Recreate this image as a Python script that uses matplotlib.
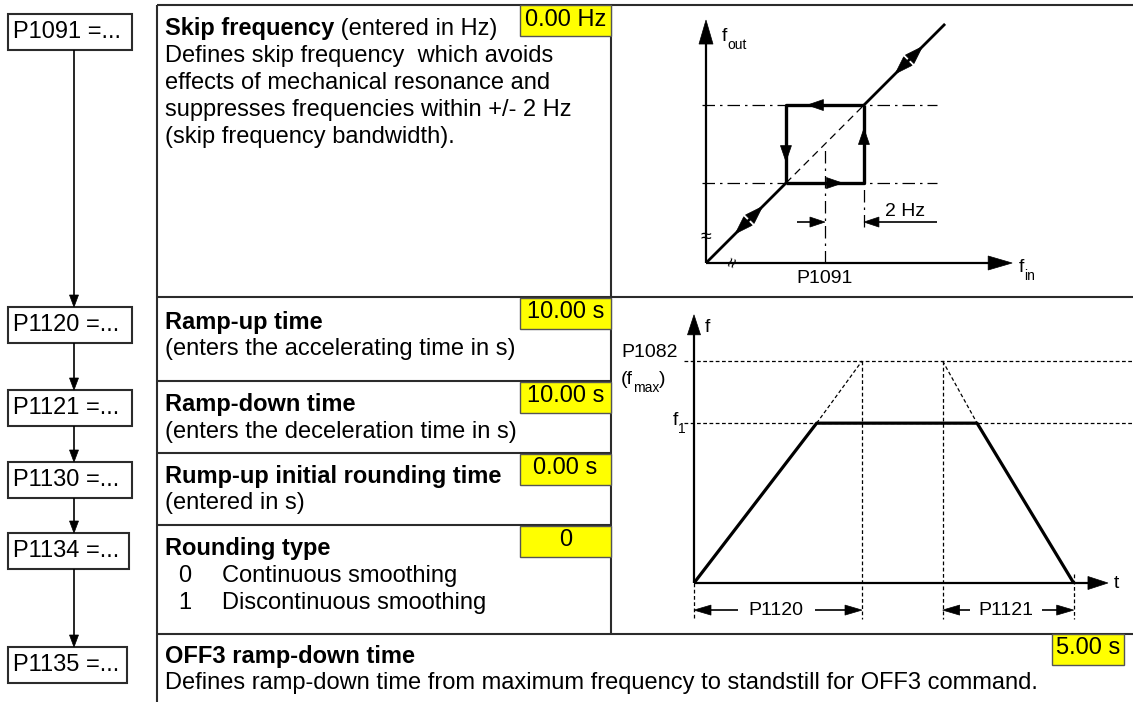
import numpy as np
import matplotlib
matplotlib.use('Agg')
import matplotlib.pyplot as plt
from matplotlib.patches import Rectangle, Polygon
from matplotlib.transforms import IdentityTransform

plt.rcParams['font.family'] = ['Liberation Sans', 'DejaVu Sans']

# ---------------- data ----------------
param_ids = ['P1091', 'P1120', 'P1121', 'P1130', 'P1134', 'P1135']
param_defaults = ['0.00 Hz', '10.00 s', '10.00 s', '0.00 s', '0', '5.00 s']
param_titles = ['Skip frequency', 'Ramp-up time', 'Ramp-down time',
                'Rump-up initial rounding time', 'Rounding type', 'OFF3 ramp-down time']
title_suffix = [' (entered in Hz)', '', '', '', '', '']
param_desc = [
    ['Defines skip frequency  which avoids', 'effects of mechanical resonance and',
     'suppresses frequencies within +/- 2 Hz', '(skip frequency bandwidth).'],
    ['(enters the accelerating time in s)'],
    ['(enters the deceleration time in s)'],
    ['(entered in s)'],
    [],
    ['Defines ramp-down time from maximum frequency to standstill for OFF3 command.'],
]
rounding_codes = ['0', '1']
rounding_names = ['Continuous smoothing', 'Discontinuous smoothing']

# skip-frequency diagram (Hz)
skip_freq = 6.1
skip_band = 2.0
skip_diag_end = 12.26
skip_axis_x_end = 15.7
skip_axis_y_end = 12.46

# ramp diagram (t in s, f in Hz)
ramp_t = [0.0, 7.3, 16.85, 22.6]
ramp_f = [0.0, 36.0, 36.0, 0.0]
f_max = 50.0
t_up_end = 10.0
t_down_start = 14.8
ramp_t_axis_end = 24.64
ramp_f_axis_end = 60.4

# ---------------- figure ----------------
W, H = 1133, 702
fig = plt.figure(figsize=(W / 100, H / 100), dpi=100)
ax = fig.add_axes([0, 0, 1, 1])
ax.set_xlim(0, W)
ax.set_ylim(H, 0)
ax.axis('off')

MAIN_FS = 17
DIAG_FS = 14
SUB_FS = 10
GRID = '#2b2b2b'


def px_axes(x0, y0, x1, y1):
    a = fig.add_axes([x0 / W, 1 - y1 / H, (x1 - x0) / W, (y1 - y0) / H])
    a.axis('off')
    return a


def head(a, tip, frm, length, width):
    T = a.transData
    p = np.array(T.transform(tip), float)
    q = np.array(T.transform(frm), float)
    d = p - q
    d /= np.hypot(*d)
    n = np.array([-d[1], d[0]])
    base = p - d * length
    pts = [p, base + n * width / 2, base - n * width / 2]
    a.add_patch(Polygon(pts, closed=True, transform=IdentityTransform(),
                        facecolor='k', edgecolor='k', lw=0.5, clip_on=False, zorder=5))


def line(a, xs, ys, lw=1.0, ls='-', color='k', z=3):
    a.plot(xs, ys, color=color, lw=lw, ls=ls, solid_capstyle='butt', clip_on=False, zorder=z)


def sub_label(a, x, y, main, sub, close=None, ha='left'):
    t = a.text(x, y, main, fontsize=DIAG_FS, ha=ha, va='baseline')
    s = a.annotate(sub, xy=(1, 0), xycoords=t, fontsize=SUB_FS, ha='left', va='center')
    if close:
        a.annotate(close, xy=(1, 0), xycoords=(s, t), fontsize=DIAG_FS, ha='left', va='bottom')
    return t


# ---------------- frame lines ----------------
line(ax, [157, 1133], [5, 5], lw=1.5, color=GRID)
line(ax, [157, 1133], [297, 297], lw=1.5, color=GRID)
line(ax, [157, 1133], [634, 634], lw=1.5, color=GRID)
for yy in [381, 453, 525]:
    line(ax, [157, 611], [yy, yy], lw=1.5, color=GRID)
line(ax, [157, 157], [5, 702], lw=1.5, color=GRID)
line(ax, [611, 611], [5, 634], lw=1.5, color=GRID)

# ---------------- parameter boxes on the left ----------------
box_y = [(14, 50), (307, 343), (390, 426), (462, 498), (533, 569), (647, 683)]
box_x1 = [132, 132, 132, 132, 129, 127]
for i, pid in enumerate(param_ids):
    y0, y1 = box_y[i]
    ax.add_patch(Rectangle((8, y0), box_x1[i] - 8, y1 - y0, fill=False, lw=1.5,
                           edgecolor=GRID, zorder=3))
    ax.text(13, (y0 + y1) / 2, pid + ' =...', fontsize=MAIN_FS, ha='left', va='center')
    if i + 1 < len(param_ids):
        ny0 = box_y[i + 1][0]
        line(ax, [74, 74], [y1, ny0 - 9], lw=1.2)
        head(ax, (74, ny0), (74, y1), 12, 9)

# ---------------- descriptions ----------------
title_y = [29, 322, 405, 476, 549, 656]
LINE_H = 27
TX = 165
for i, title in enumerate(param_titles):
    t = ax.text(TX, title_y[i], title, fontsize=MAIN_FS, fontweight='bold',
                ha='left', va='center')
    if title_suffix[i]:
        ax.annotate(title_suffix[i], xy=(1, 0), xycoords=t, fontsize=MAIN_FS,
                    ha='left', va='bottom')
    for k, d in enumerate(param_desc[i]):
        ax.text(TX, title_y[i] + LINE_H * (k + 1), d, fontsize=MAIN_FS,
                ha='left', va='center')
    if i == 4:
        for k, (c, nm) in enumerate(zip(rounding_codes, rounding_names)):
            yy = title_y[i] + LINE_H * (k + 1)
            ax.text(178, yy, c, fontsize=MAIN_FS, ha='left', va='center')
            ax.text(222, yy, nm, fontsize=MAIN_FS, ha='left', va='center')

# yellow default-value boxes
ybox = [(520, 5, 91, 31), (520, 298, 91, 31), (520, 382, 91, 31), (520, 454, 91, 31),
        (520, 526, 91, 31), (1052, 634, 72, 31)]
for i, val in enumerate(param_defaults):
    x, y, w, h = ybox[i]
    ax.add_patch(Rectangle((x, y), w, h, facecolor='#ffff00', edgecolor='#555555', lw=1.0,
                           zorder=4))
    ax.text(x + w / 2, y + h / 2 - 1, val, fontsize=MAIN_FS, ha='center', va='center', zorder=5)

# ---------------- skip-frequency diagram ----------------
sx0, sy0, ss = 706, 263, 19.5
sk = px_axes(611, 5, 1133, 297)
sk.set_xlim((611 - sx0) / ss, (1133 - sx0) / ss)
sk.set_ylim((sy0 - 297) / ss, (sy0 - 5) / ss)

lo = skip_freq - skip_band
hi = skip_freq + skip_band
# axes
line(sk, [0, 0], [0, skip_axis_y_end - 0.9], lw=1.6)
head(sk, (0, skip_axis_y_end), (0, 0), 24, 14)
line(sk, [0, skip_axis_x_end - 0.9], [0, 0], lw=1.6)
head(sk, (skip_axis_x_end, 0), (0, 0), 24, 14)
sub_label(sk, 0.8, skip_axis_y_end - 1.05, 'f', 'out')
sub_label(sk, skip_axis_x_end + 0.35, -0.45, 'f', 'in')
# dash-dot guide lines
dd = (0, (10, 4, 2, 4))
for fy in [lo, hi]:
    line(sk, [-0.2, 11.85], [fy, fy], lw=0.9, ls=dd)
line(sk, [skip_freq, skip_freq], [0, skip_freq - 0.15], lw=0.9, ls=dd)
line(sk, [hi, hi], [1.85, lo], lw=0.9, ls=dd)
# diagonal
line(sk, [0, lo], [0, lo], lw=2.0)
line(sk, [lo, hi], [lo, hi], lw=0.9, ls=(0, (6, 4)))
line(sk, [hi, skip_diag_end], [hi, skip_diag_end], lw=2.0)
# hysteresis square
line(sk, [lo, hi, hi], [lo, lo, hi], lw=2.4)
line(sk, [hi, lo, lo], [hi, hi, lo], lw=2.4)
head(sk, (lo + 1.1, hi), (hi, hi), 16, 11)
head(sk, (hi - 1.1, lo), (lo, lo), 16, 11)
head(sk, (lo, lo + 1.1), (lo, hi), 16, 11)
head(sk, (hi, hi - 1.2), (hi, lo), 16, 11)
# arrows on diagonal
for tip, frm in [((11.1, 11.1), (0, 0)), ((9.7, 9.7), (12, 12)),
                 ((2.9, 2.9), (0, 0)), ((1.5, 1.5), (4, 4))]:
    head(sk, tip, frm, 18, 12)
# 2 Hz dimension
line(sk, [11.85, hi + 0.5], [2.1, 2.1], lw=1.2)
head(sk, (hi, 2.1), (11.85, 2.1), 15, 10)
line(sk, [4.67, skip_freq - 0.5], [2.1, 2.1], lw=1.2)
head(sk, (skip_freq, 2.1), (4.67, 2.1), 15, 10)
sk.text(10.2, 2.65, '2 Hz', fontsize=DIAG_FS, ha='center', va='center')
sk.text(skip_freq, -0.78, 'P1091', fontsize=DIAG_FS, ha='center', va='center')
# axis break marks
sk.text(0, 1.3, '\u2248', fontsize=14, ha='center', va='center')
sk.text(1.4, 0, '\u2248', fontsize=13, ha='center', va='center', rotation=70)

# ---------------- ramp diagram ----------------
rx0, ry0, rsx, rsy = 694, 583, 16.8, 4.44
rp = px_axes(611, 297, 1133, 634)
rp.set_xlim((611 - rx0) / rsx, (1133 - rx0) / rsx)
rp.set_ylim((ry0 - 634) / rsy, (ry0 - 297) / rsy)

line(rp, [0, 0], [0, ramp_f_axis_end - 4], lw=1.6)
head(rp, (0, ramp_f_axis_end), (0, 0), 20, 13)
line(rp, [0, ramp_t_axis_end - 1], [0, 0], lw=1.6)
head(rp, (ramp_t_axis_end, 0), (0, 0), 20, 13)
rp.text(0.65, ramp_f_axis_end - 2.8, 'f', fontsize=DIAG_FS, ha='left', va='center')
rp.text(ramp_t_axis_end + 0.35, 0, 't', fontsize=DIAG_FS, ha='left', va='center')

dsh = (0, (3, 2))
t_hi = (1133 - rx0) / rsx
line(rp, [-0.6, t_hi], [f_max, f_max], lw=0.9, ls=dsh)
line(rp, [-0.6, t_hi], [ramp_f[1], ramp_f[1]], lw=0.9, ls=dsh)
line(rp, [ramp_t[1], t_up_end], [ramp_f[1], f_max], lw=0.9, ls=dsh)
line(rp, [t_down_start, ramp_t[2]], [f_max, ramp_f[2]], lw=0.9, ls=dsh)
f_dim = -6.1
for tx, ftop in [(0, 0), (t_up_end, f_max), (t_down_start, f_max), (ramp_t[3], 2)]:
    line(rp, [tx, tx], [ftop, -8.0], lw=0.9, ls=dsh)
line(rp, ramp_t, ramp_f, lw=2.3)

# dimension arrows
line(rp, [2.6, 1.0], [f_dim, f_dim], lw=1.2)
head(rp, (0, f_dim), (2.6, f_dim), 17, 10)
line(rp, [7.2, 9.0], [f_dim, f_dim], lw=1.2)
head(rp, (t_up_end, f_dim), (7.2, f_dim), 17, 10)
rp.text(4.9, f_dim, 'P1120', fontsize=DIAG_FS, ha='center', va='center')
line(rp, [16.4, 15.6], [f_dim, f_dim], lw=1.2)
head(rp, (t_down_start, f_dim), (16.4, f_dim), 17, 10)
line(rp, [20.7, 21.6], [f_dim, f_dim], lw=1.2)
head(rp, (ramp_t[3], f_dim), (20.7, f_dim), 17, 10)
rp.text(18.55, f_dim, 'P1121', fontsize=DIAG_FS, ha='center', va='center')

# labels at the left of the f axis
rp.text(-4.35, 52.0, 'P1082', fontsize=DIAG_FS, ha='left', va='center')
sub_label(rp, -4.35, 44.9, '(f', 'max', close=')')
sub_label(rp, -1.25, 35.6, 'f', '1')

fig.savefig('out.png', dpi=100)
